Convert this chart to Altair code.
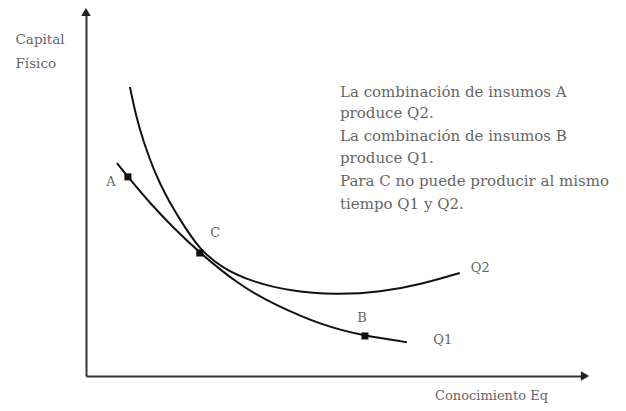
import altair as alt
import pandas as pd

# Isoquant Q2 (steeper curve)
q2_x = [8.8, 10.0, 11.6, 13.6, 16.0, 18.8, 22.8, 27.5, 33.5, 41.0, 50.0, 59.0, 67.5, 74.9]
q2_y = [79.4, 71.5, 64.0, 56.5, 49.5, 43.0, 34.6, 29.5, 25.8, 23.3, 22.3, 23.0, 25.3, 28.3]

# Isoquant Q1
q1_x = [6.2, 8.4, 12.8, 17.4, 22.8, 30.9, 37.5, 47.5, 55.9, 64.3]
q1_y = [58.5, 54.7, 47.5, 40.9, 33.8, 24.8, 19.8, 13.8, 11.0, 9.3]

# Marked input combinations
pt_names = ["A", "C", "B"]
pt_x = [8.4, 22.8, 55.9]
pt_y = [54.7, 33.8, 11.0]

# Labels
lab_text = ["A", "C", "B", "Q2", "Q1"]
lab_x = [5.0, 25.9, 55.3, 79.0, 71.5]
lab_y = [53.3, 39.3, 15.9, 29.7, 9.9]

note_lines = [
    "La combinación de insumos A",
    "produce Q2.",
    "La combinación de insumos B",
    "produce Q1.",
    "Para C no puede producir al mismo",
    "tiempo Q1 y Q2.",
]
note_x = 50.9
note_y = [78.0, 72.3, 65.9, 59.9, 53.6, 47.3]

curves = pd.DataFrame(
    {"x": q2_x + q1_x, "y": q2_y + q1_y,
     "curve": ["Q2"] * len(q2_x) + ["Q1"] * len(q1_x),
     "order": list(range(len(q2_x))) + list(range(len(q1_x)))}
)
pts = pd.DataFrame({"x": pt_x, "y": pt_y, "name": pt_names})
labs = pd.DataFrame({"x": lab_x, "y": lab_y, "t": lab_text})
notes = pd.DataFrame({"x": [note_x] * len(note_lines), "y": note_y, "t": note_lines})

xs = alt.Scale(domain=[0, 100], nice=False, zero=False)
ys = alt.Scale(domain=[0, 100], nice=False, zero=False)

TXT = "#666"

xenc = alt.X("x:Q", scale=xs, axis=alt.Axis(
    title="Conocimiento Eq", grid=False, ticks=False, labels=False,
    domainColor="#333", domainWidth=2, titleFont="DejaVu Serif",
    titleFontSize=13, titleFontWeight="normal", titleColor=TXT,
    titleX=405, titleY=19, titleAlign="center", titleBaseline="middle"))
yenc = alt.Y("y:Q", scale=ys, axis=alt.Axis(
    title=["Capital", "Físico"], grid=False, ticks=False, labels=False,
    domainColor="#333", domainWidth=2, titleFont="DejaVu Serif",
    titleFontSize=13.5, titleFontWeight="normal", titleColor=TXT,
    titleAngle=0, titleX=-71, titleY=20, titleAlign="left",
    titleBaseline="top", titleLineHeight=24))

lines = alt.Chart(curves).mark_line(color="#111", strokeWidth=2, interpolate="basis").encode(
    x=xenc, y=yenc, detail="curve:N", order="order:Q")

markers = alt.Chart(pts).mark_point(shape="square", filled=True, color="#111", size=50, opacity=1).encode(
    x=alt.X("x:Q", scale=xs), y=alt.Y("y:Q", scale=ys))

labels = alt.Chart(labs).mark_text(font="DejaVu Serif", fontSize=13, color=TXT,
                                   align="center", baseline="middle").encode(
    x=alt.X("x:Q", scale=xs), y=alt.Y("y:Q", scale=ys), text="t:N")

note = alt.Chart(notes).mark_text(font="DejaVu Serif", fontSize=15, color=TXT,
                                  align="left", baseline="middle").encode(
    x=alt.X("x:Q", scale=xs), y=alt.Y("y:Q", scale=ys), text="t:N")

arrow_up = alt.Chart(pd.DataFrame({"k": [0]})).mark_point(
    shape="triangle-up", filled=True, color="#222", size=90, opacity=1).encode(
    x=alt.value(0), y=alt.value(0))
arrow_right = alt.Chart(pd.DataFrame({"k": [0]})).mark_point(
    shape="triangle-right", filled=True, color="#222", size=90, opacity=1).encode(
    x=alt.value(499), y=alt.value(364))

chart = alt.layer(lines, markers, labels, note, arrow_up, arrow_right).properties(
    width=499, height=364,
    background="white",
    autosize=alt.AutoSizeParams(type="none"),
    padding={"left": 78, "top": 4, "right": 30, "bottom": 27},
).configure_view(strokeWidth=0, stroke="transparent")

chart.save("out.html", embed_options={"renderer": "svg", "actions": False})
